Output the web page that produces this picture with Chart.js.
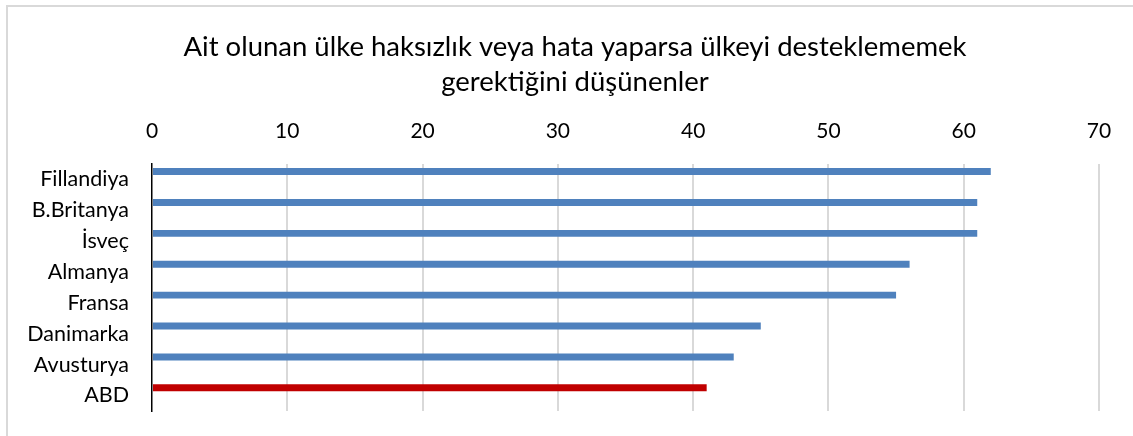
<!DOCTYPE html>
<html>
<head>
<meta charset="utf-8">
<script src="https://cdn.jsdelivr.net/npm/chart.js@4"></script>
<style>
  html, body { margin: 0; padding: 0; overflow: hidden; background: #fff; }
  #frame { position: absolute; left: 6px; top: 5px; width: 1200px; height: 500px; border: 2px solid #d9d9d9; }
  #bar-chart { position: absolute; left: 0; top: 0; }
</style>
</head>
<body>
<div id="frame"></div>
<canvas id="bar-chart" width="1133" height="436"></canvas>
<script>
// data
var countries = ["Fillandiya", "B.Britanya", "İsveç", "Almanya", "Fransa", "Danimarka", "Avusturya", "ABD"];
var values = [62, 61, 61, 56, 55, 45, 43, 41];
var xTicks = [0, 10, 20, 30, 40, 50, 60, 70];
var titleLines = ["Ait olunan ülke haksızlık veya hata yaparsa ülkeyi desteklememek", "gerektiğini düşünenler"];

var blue = "#4F81BD";
var red = "#C00000";
var barColors = countries.map(function(c) { return c === "ABD" ? red : blue; });

var fontFamily = "Lato, 'Noto Sans', sans-serif";

new Chart(document.getElementById("bar-chart"), {
  type: 'bar',
  data: {
    labels: countries,
    datasets: [
      {
        label: "Desteklememek",
        backgroundColor: barColors,
        data: values,
        categoryPercentage: 1.0,
        barPercentage: 0.45
      },
      {
        // empty second series (keeps bars in upper half of each row)
        label: "",
        data: countries.map(function() { return null; }),
        categoryPercentage: 1.0,
        barPercentage: 0.45
      }
    ]
  },
  options: {
    indexAxis: 'y',
    responsive: false,
    animation: false,
    layout: { padding: { left: 17, right: 0, top: 0, bottom: 25 } },
    plugins: {
      legend: { display: false },
      tooltip: { enabled: false },
      title: {
        display: true,
        text: titleLines,
        color: '#000',
        font: { family: fontFamily, size: 27.5, weight: 'normal', lineHeight: 1.27 },
        padding: { top: 30, bottom: 0 }
      }
    },
    scales: {
      x: {
        position: 'top',
        min: 0,
        max: 70,
        afterBuildTicks: function(scale) {
          scale.ticks = xTicks.map(function(v) { return { value: v }; });
        },
        afterFit: function(scale) { scale.height = 64; },
        grid: {
          color: function(ctx) { return ctx.index === 0 ? 'rgba(0,0,0,0)' : '#d9d9d9'; },
          lineWidth: 2,
          drawTicks: false
        },
        border: { display: false },
        ticks: {
          color: '#000',
          padding: 20,
          maxRotation: 0,
          font: { family: fontFamily, size: 21 }
        }
      },
      y: {
        afterFit: function(scale) { scale.width = 135; },
        grid: {
          display: true,
          drawOnChartArea: false,
          drawTicks: true,
          tickLength: 23,
          tickColor: 'rgba(0,0,0,0)',
          color: 'rgba(0,0,0,0)'
        },
        border: { display: true, color: '#000', width: 1.5 },
        ticks: {
          color: '#000',
          padding: 0,
          font: { family: fontFamily, size: 21.5 }
        }
      },
      // blank strip on the right, keeps the plot edge at 70
      yRight: {
        type: 'linear',
        position: 'right',
        display: true,
        afterFit: function(scale) { scale.width = 34; },
        grid: { display: false, drawTicks: false },
        border: { display: false },
        ticks: { display: false }
      }
    }
  }
});
</script>
</body>
</html>
